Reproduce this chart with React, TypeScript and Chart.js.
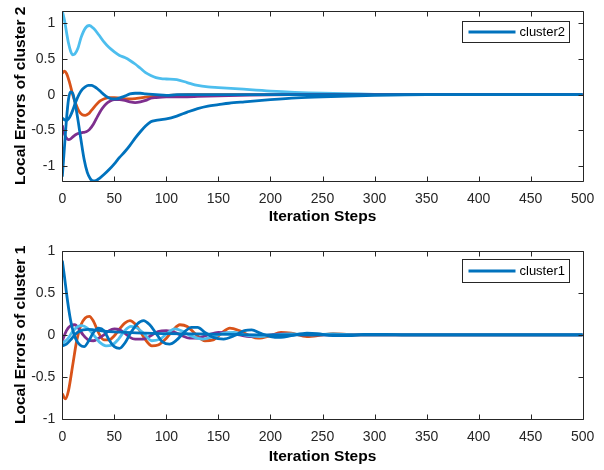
import React, { useEffect, useRef } from 'react';
import { Chart, registerables } from 'chart.js';

Chart.register(...registerables);

const BLUE = '#0072BD';
const ORANGE = '#D95319';
const PURPLE = '#7E2F8E';
const LIGHTBLUE = '#4DBEEE';
const FONT = "'Liberation Sans', Arial, Helvetica, sans-serif";

const xTicks = [0, 50, 100, 150, 200, 250, 300, 350, 400, 450, 500];
const c2YTicks = [-1, -0.5, 0, 0.5, 1];
const c1YTicks = [-1, -0.5, 0, 0.5, 1];

// ---- cluster 2 (top panel) ----
const c2BlueASteps = [0, 2, 4, 6, 8, 10, 13, 16, 19, 22, 25, 28, 31, 34, 37, 40, 44, 48, 52, 56, 60, 65, 70, 75, 80, 90, 100, 110, 500];
const c2BlueAVals = [-0.33, -0.35, -0.36, -0.34, -0.29, -0.22, -0.1, 0.0, 0.07, 0.11, 0.13, 0.13, 0.11, 0.08, 0.04, 0.0, -0.04, -0.06, -0.06, -0.04, -0.02, 0.01, 0.02, 0.02, 0.01, 0.0, -0.01, 0, 0];

const c2BlueBSteps = [0, 2, 4, 6, 8, 10, 12, 15, 18, 21, 24, 27, 30, 33, 36, 40, 45, 50, 55, 60, 65, 70, 75, 80, 85, 90, 95, 100, 110, 120, 130, 140, 150, 160, 175, 200, 225, 250, 275, 300, 350, 500];
const c2BlueBVals = [-1.15, -0.75, -0.35, -0.06, 0.04, 0.02, -0.1, -0.35, -0.64, -0.91, -1.09, -1.18, -1.21, -1.2, -1.17, -1.12, -1.05, -0.97, -0.88, -0.8, -0.71, -0.61, -0.52, -0.44, -0.38, -0.36, -0.35, -0.34, -0.3, -0.245, -0.195, -0.16, -0.14, -0.12, -0.1, -0.07, -0.045, -0.03, -0.02, -0.01, 0, 0];

const c2PurpleSteps = [0, 2, 4, 6, 8, 11, 14, 17, 20, 23, 26, 30, 34, 38, 42, 46, 50, 55, 60, 65, 70, 75, 80, 85, 90, 100, 115, 130, 150, 180, 220, 500];
const c2PurpleVals = [-0.43, -0.55, -0.61, -0.63, -0.62, -0.58, -0.55, -0.54, -0.53, -0.52, -0.49, -0.41, -0.3, -0.2, -0.13, -0.09, -0.07, -0.07, -0.08, -0.1, -0.11, -0.1, -0.08, -0.05, -0.04, -0.03, -0.03, -0.025, -0.015, -0.005, 0, 0];

const c2OrangeSteps = [0, 2, 4, 7, 10, 13, 16, 19, 22, 25, 28, 32, 36, 40, 45, 50, 55, 60, 65, 70, 75, 80, 90, 100, 110, 120, 140, 500];
const c2OrangeVals = [0.3, 0.33, 0.3, 0.17, 0.0, -0.13, -0.23, -0.28, -0.29, -0.27, -0.22, -0.15, -0.09, -0.06, -0.04, -0.04, -0.05, -0.06, -0.06, -0.055, -0.045, -0.035, -0.02, -0.01, -0.005, 0, 0, 0];

const c2LightSteps = [0, 2, 4, 6, 8, 10, 12, 15, 18, 22, 26, 30, 35, 40, 45, 50, 55, 60, 65, 70, 75, 80, 85, 90, 95, 100, 110, 120, 130, 140, 150, 170, 200, 250, 300, 350, 500];
const c2LightVals = [1.17, 1.05, 0.88, 0.72, 0.61, 0.56, 0.57, 0.65, 0.8, 0.93, 0.97, 0.93, 0.84, 0.74, 0.66, 0.6, 0.55, 0.52, 0.48, 0.43, 0.37, 0.31, 0.27, 0.24, 0.225, 0.22, 0.21, 0.17, 0.13, 0.11, 0.1, 0.08, 0.05, 0.02, 0.005, 0, 0];

// ---- cluster 1 (bottom panel) ----
const c1BlueWaveSteps = [0, 2, 4, 6, 8, 10, 13, 17, 21, 25, 30, 35, 40, 45, 50, 55, 60, 66, 72, 78, 84, 90, 96, 103, 110, 117, 124, 130, 137, 145, 155, 165, 175, 182, 190, 200, 210, 220, 235, 245, 260, 275, 290, 310, 330, 500];
const c1BlueWaveVals = [0.88, 0.7, 0.5, 0.32, 0.17, 0.06, -0.05, -0.12, -0.14, -0.08, 0.03, 0.08, 0.05, -0.06, -0.14, -0.16, -0.1, 0.03, 0.13, 0.17, 0.12, 0.02, -0.08, -0.11, -0.06, 0.03, 0.09, 0.09, 0.03, -0.03, -0.05, -0.01, 0.05, 0.06, 0.02, -0.02, -0.03, -0.01, 0.02, 0.015, -0.01, -0.01, 0.005, 0.005, 0, 0];

const c1BlueFlatSteps = [0, 4, 8, 12, 16, 20, 25, 30, 40, 50, 60, 80, 100, 130, 160, 200, 500];
const c1BlueFlatVals = [-0.13, -0.11, -0.06, 0.0, 0.04, 0.06, 0.065, 0.06, 0.045, 0.035, 0.03, 0.02, 0.015, 0.01, 0.005, 0, 0];

const c1LightSteps = [0, 5, 10, 15, 19, 24, 30, 36, 42, 48, 54, 60, 66, 72, 78, 86, 94, 100, 108, 116, 125, 135, 145, 155, 165, 175, 190, 205, 220, 240, 260, 280, 500];
const c1LightVals = [-0.1, -0.05, 0.04, 0.1, 0.11, 0.08, 0.0, -0.09, -0.13, -0.12, -0.05, 0.05, 0.1, 0.08, 0.02, -0.07, -0.05, 0.01, 0.07, 0.04, -0.02, -0.05, -0.02, 0.02, 0.03, 0.0, -0.02, 0, 0.01, 0, 0.01, 0, 0];

const c1PurpleSteps = [0, 4, 8, 12, 16, 20, 25, 30, 35, 40, 45, 50, 55, 60, 65, 70, 78, 85, 92, 100, 108, 115, 122, 130, 140, 150, 160, 170, 180, 195, 210, 230, 500];
const c1PurpleVals = [-0.07, 0.05, 0.11, 0.12, 0.07, 0.0, -0.06, -0.07, -0.04, 0.0, 0.05, 0.07, 0.06, 0.02, -0.03, -0.05, -0.05, -0.01, 0.04, 0.05, 0.03, -0.01, -0.04, -0.04, 0.0, 0.03, 0.02, 0.0, -0.02, -0.01, 0.01, 0, 0];

const c1OrangeSteps = [0, 3, 6, 10, 14, 18, 22, 26, 30, 35, 40, 45, 50, 55, 60, 65, 70, 75, 80, 86, 92, 100, 106, 113, 120, 128, 137, 145, 153, 161, 170, 180, 188, 200, 210, 220, 235, 250, 260, 280, 500];
const c1OrangeVals = [-0.7, -0.76, -0.66, -0.36, -0.06, 0.12, 0.2, 0.22, 0.16, 0.02, -0.06, -0.06, -0.01, 0.07, 0.14, 0.17, 0.13, 0.04, -0.06, -0.13, -0.12, -0.04, 0.05, 0.12, 0.1, 0.01, -0.07, -0.06, 0.02, 0.08, 0.05, -0.01, -0.04, -0.01, 0.03, 0.02, -0.02, 0.0, 0.015, 0, 0];

type Series = { label: string; color: string; steps: number[]; vals: number[] };

const cluster2Series: Series[] = [
  { label: 'cluster2', color: BLUE, steps: c2BlueASteps, vals: c2BlueAVals },
  { label: '', color: BLUE, steps: c2BlueBSteps, vals: c2BlueBVals },
  { label: '', color: PURPLE, steps: c2PurpleSteps, vals: c2PurpleVals },
  { label: '', color: ORANGE, steps: c2OrangeSteps, vals: c2OrangeVals },
  { label: '', color: LIGHTBLUE, steps: c2LightSteps, vals: c2LightVals },
];

const cluster1Series: Series[] = [
  { label: 'cluster1', color: BLUE, steps: c1BlueFlatSteps, vals: c1BlueFlatVals },
  { label: '', color: BLUE, steps: c1BlueWaveSteps, vals: c1BlueWaveVals },
  { label: '', color: LIGHTBLUE, steps: c1LightSteps, vals: c1LightVals },
  { label: '', color: PURPLE, steps: c1PurpleSteps, vals: c1PurpleVals },
  { label: '', color: ORANGE, steps: c1OrangeSteps, vals: c1OrangeVals },
];

const AXIS = '#262626';
const LINE_W = 2.8;

const framePlugin = {
  id: 'matlabFrame',
  afterDatasetsDraw(chart: any) {
    const { ctx, chartArea: a, scales } = chart;
    const L = Math.round(a.left) + 0.5;
    const R = Math.round(a.right) + 0.5;
    const T = Math.round(a.top) + 0.5;
    const B = Math.round(a.bottom) + 0.5;
    ctx.save();
    ctx.strokeStyle = AXIS;
    ctx.lineWidth = 1;
    ctx.beginPath();
    ctx.rect(L, T, R - L, B - T);
    const tl = 5;
    for (const t of scales.x.ticks) {
      const px = Math.round(scales.x.getPixelForValue(t.value)) + 0.5;
      ctx.moveTo(px, B);
      ctx.lineTo(px, B - tl);
      ctx.moveTo(px, T);
      ctx.lineTo(px, T + tl);
    }
    for (const t of scales.y.ticks) {
      const py = Math.round(scales.y.getPixelForValue(t.value)) + 0.5;
      ctx.moveTo(L, py);
      ctx.lineTo(L + tl, py);
      ctx.moveTo(R, py);
      ctx.lineTo(R - tl, py);
    }
    ctx.stroke();
    ctx.restore();
  },
  afterDraw(chart: any) {
    const opts = chart.options.plugins.matlabFrame;
    if (!opts) return;
    const { ctx, chartArea: a } = chart;
    const ds = chart.data.datasets[0];
    const w = 107;
    const h = opts.legendH;
    const x0 = Math.round(a.right - opts.legendRight - w) + 0.5;
    const y0 = Math.round(a.top + opts.legendTop) + 0.5;
    ctx.save();
    ctx.fillStyle = '#ffffff';
    ctx.fillRect(x0, y0, w, h);
    ctx.strokeStyle = AXIS;
    ctx.lineWidth = 1;
    ctx.strokeRect(x0, y0, w, h);
    const cy = y0 + h / 2;
    ctx.strokeStyle = ds.borderColor;
    ctx.lineWidth = LINE_W;
    ctx.beginPath();
    ctx.moveTo(x0 + 6, cy);
    ctx.lineTo(x0 + 53, cy);
    ctx.stroke();
    ctx.fillStyle = '#000000';
    ctx.font = `13px ${FONT}`;
    ctx.textBaseline = 'middle';
    ctx.textAlign = 'left';
    ctx.fillText(ds.label, x0 + 57, cy + 0.5);
    ctx.restore();
  },
};

type PanelProps = {
  top: number;
  height: number;
  plotTop: number;
  plotBottom: number;
  yMin: number;
  yMax: number;
  yTicks: number[];
  yLabel: string;
  series: Series[];
  legendTop: number;
  legendH: number;
  titlePad: number;
};

function Panel(p: PanelProps) {
  const ref = useRef<HTMLCanvasElement | null>(null);
  useEffect(() => {
    const canvas = ref.current;
    if (!canvas) return;
    const chart = new Chart(canvas, {
      type: 'line',
      data: {
        datasets: p.series.map((s) => ({
          label: s.label,
          data: s.steps.map((x, i) => ({ x, y: s.vals[i] })),
          borderColor: s.color,
          backgroundColor: s.color,
          borderWidth: LINE_W,
          pointRadius: 0,
          cubicInterpolationMode: 'monotone',
          fill: false,
          clip: 0,
        })),
      },
      options: {
        animation: false,
        responsive: false,
        devicePixelRatio: 1,
        layout: { padding: { top: p.plotTop, left: 0, right: 604 - 582.7, bottom: 0 } },
        plugins: {
          legend: { display: false },
          tooltip: { enabled: false },
          matlabFrame: { legendTop: p.legendTop, legendRight: 13.7, legendH: p.legendH },
        } as any,
        scales: {
          x: {
            type: 'linear',
            min: 0,
            max: 500,
            afterBuildTicks: (s: any) => {
              s.ticks = xTicks.map((v) => ({ value: v }));
            },
            afterFit: (s: any) => {
              s.height = p.height - p.plotBottom;
              s.paddingLeft = 0;
              s.paddingRight = 0;
              s.paddingTop = 0;
              s.paddingBottom = 0;
            },
            grid: { display: false, drawTicks: false },
            border: { display: false },
            ticks: {
              padding: 10,
              autoSkip: false,
              maxRotation: 0,
              color: AXIS,
              font: { family: FONT, size: 14 },
              callback: (v: any) => String(v),
            },
            title: {
              display: true,
              text: 'Iteration Steps',
              color: '#000000',
              font: { family: FONT, size: 15.5, weight: 'bold' },
              padding: { top: 0, bottom: p.titlePad },
            },
          },
          y: {
            type: 'linear',
            min: p.yMin,
            max: p.yMax,
            afterBuildTicks: (s: any) => {
              s.ticks = p.yTicks.map((v) => ({ value: v }));
            },
            afterFit: (s: any) => {
              s.width = 62.3;
              s.paddingTop = 0;
              s.paddingBottom = 0;
              s.paddingLeft = 0;
              s.paddingRight = 0;
            },
            grid: { display: false, drawTicks: false },
            border: { display: false },
            ticks: {
              padding: 7,
              autoSkip: false,
              color: AXIS,
              font: { family: FONT, size: 14 },
              callback: (v: any) => String(v),
            },
            title: {
              display: true,
              text: p.yLabel,
              color: '#000000',
              font: { family: FONT, size: 15.5, weight: 'bold' },
              padding: { top: 11, bottom: 0 },
            },
          },
        },
      } as any,
      plugins: [framePlugin],
    });
    return () => chart.destroy();
  }, []);
  return (
    <canvas
      ref={ref}
      width={604}
      height={p.height}
      style={{ position: 'absolute', left: 0, top: p.top, width: 604, height: p.height, display: 'block' }}
    />
  );
}

export default function App() {
  return (
    <div style={{ position: 'absolute', left: 0, top: 0, width: 604, height: 470, background: '#ffffff', overflow: 'hidden' }}>
      <Panel
        top={0}
        height={235}
        plotTop={10.5}
        plotBottom={181}
        yMin={-1.21}
        yMax={1.18}
        yTicks={c2YTicks}
        yLabel="Local Errors of cluster 2"
        series={cluster2Series}
        legendTop={10.5}
        legendH={21}
        titlePad={9}
      />
      <Panel
        top={235}
        height={235}
        plotTop={15.7}
        plotBottom={184}
        yMin={-1}
        yMax={1}
        yTicks={c1YTicks}
        yLabel="Local Errors of cluster 1"
        series={cluster1Series}
        legendTop={8.3}
        legendH={23}
        titlePad={4}
      />
    </div>
  );
}
